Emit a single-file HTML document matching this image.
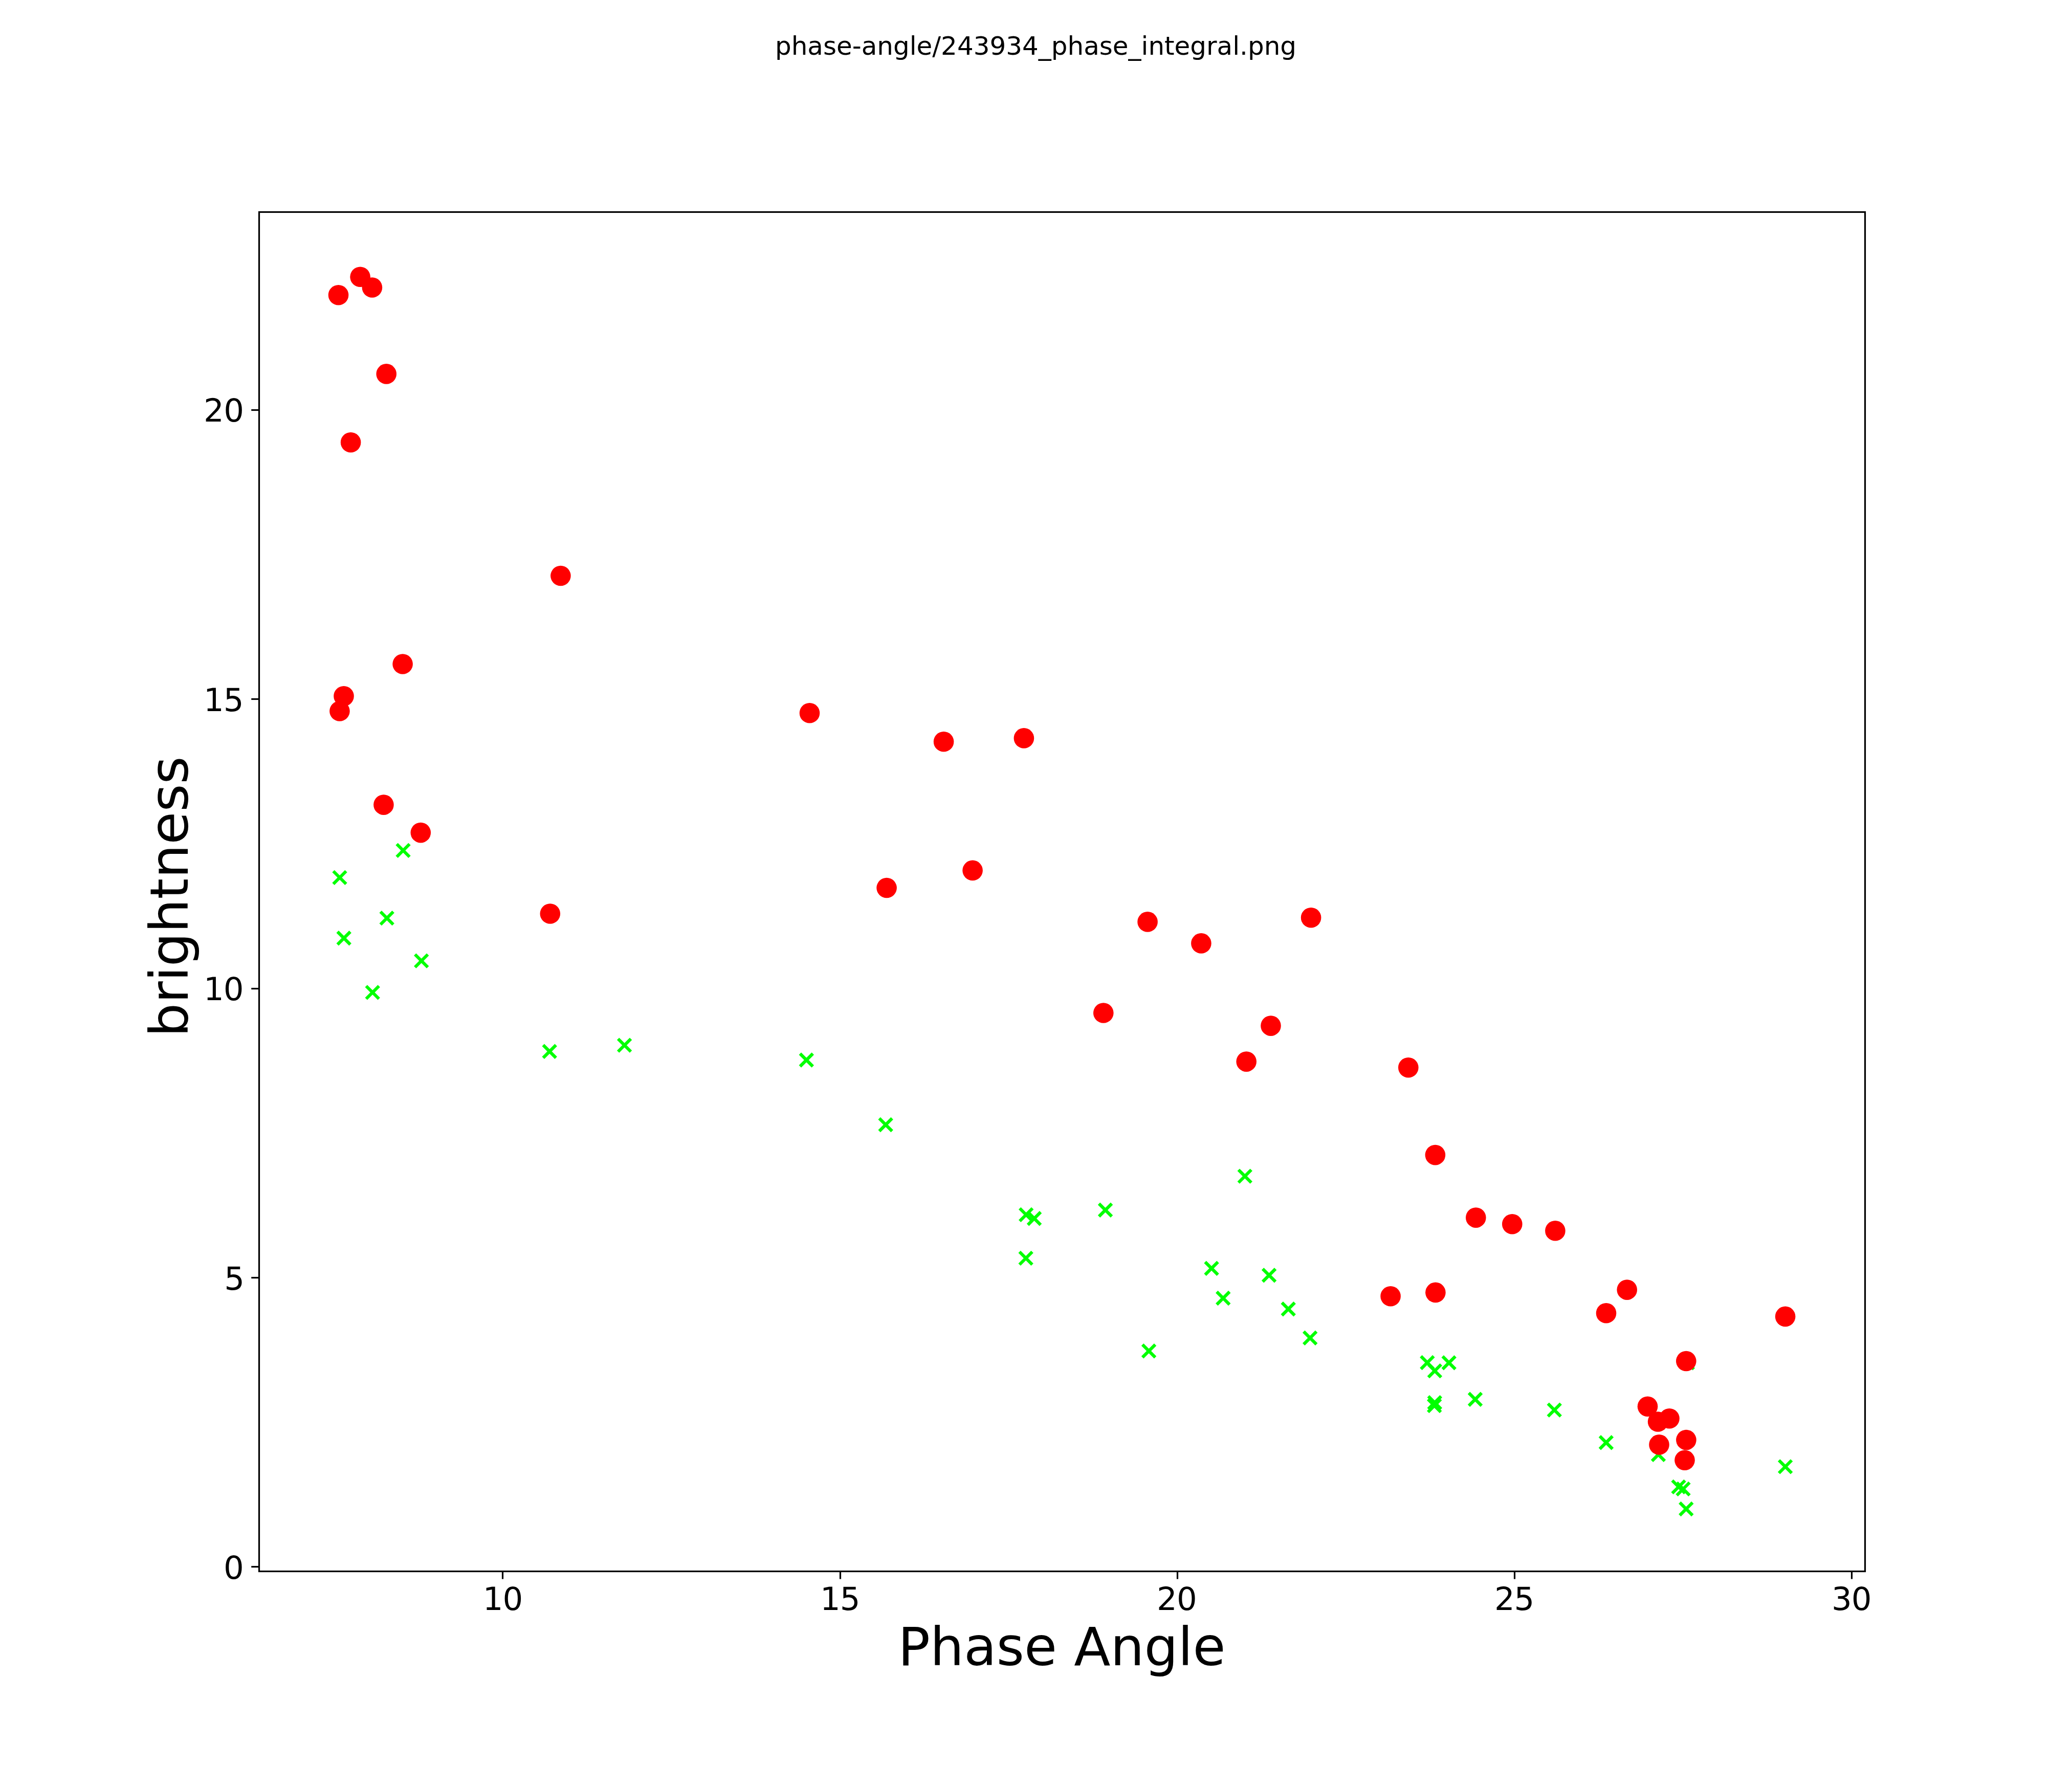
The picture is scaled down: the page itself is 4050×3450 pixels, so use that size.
<!DOCTYPE html>
<html><head><meta charset="utf-8"><title>phase-angle/243934_phase_integral.png</title>
<style>html,body{margin:0;padding:0;background:#fff;overflow:hidden;width:4050px;height:3450px}svg{display:block}text{font-family:"DejaVu Sans","Liberation Sans",sans-serif;fill:#000}</style></head><body>
<svg width="4050" height="3450" viewBox="0 0 4050 3450">
<rect width="4050" height="3450" fill="#fff"/>
<g stroke="#00ff00" stroke-width="6.25" stroke-linecap="butt" fill="none">
<path d="M775.5 1649.9L800.5 1674.9M775.5 1674.9L800.5 1649.9"/>
<path d="M651.5 1702.9L676.5 1727.9M651.5 1727.9L676.5 1702.9"/>
<path d="M743.7 1782.1L768.7 1807.1M743.7 1807.1L768.7 1782.1"/>
<path d="M659.7 1821.2L684.7 1846.2M659.7 1846.2L684.7 1821.2"/>
<path d="M811.2 1865.6L836.2 1890.6M811.2 1890.6L836.2 1865.6"/>
<path d="M715.7 1927.4L740.7 1952.4M715.7 1952.4L740.7 1927.4"/>
<path d="M1061.7 2042.7L1086.7 2067.7M1061.7 2067.7L1086.7 2042.7"/>
<path d="M1208.1 2030.6L1233.1 2055.6M1208.1 2055.6L1233.1 2030.6"/>
<path d="M1563.8 2059.5L1588.8 2084.5M1563.8 2084.5L1588.8 2059.5"/>
<path d="M1718.7 2186.0L1743.7 2211.0M1718.7 2211.0L1743.7 2186.0"/>
<path d="M1993.2 2361.9L2018.2 2386.9M1993.2 2386.9L2018.2 2361.9"/>
<path d="M2009.1 2369.2L2034.1 2394.2M2009.1 2394.2L2034.1 2369.2"/>
<path d="M1992.7 2446.9L2017.7 2471.9M1992.7 2471.9L2017.7 2446.9"/>
<path d="M2148.1 2352.8L2173.1 2377.8M2148.1 2377.8L2173.1 2352.8"/>
<path d="M2420.8 2286.6L2445.8 2311.6M2420.8 2311.6L2445.8 2286.6"/>
<path d="M2355.6 2466.7L2380.6 2491.7M2355.6 2491.7L2380.6 2466.7"/>
<path d="M2468.1 2480.2L2493.1 2505.2M2468.1 2505.2L2493.1 2480.2"/>
<path d="M2378.3 2525.0L2403.3 2550.0M2378.3 2550.0L2403.3 2525.0"/>
<path d="M2505.7 2546.3L2530.7 2571.3M2505.7 2571.3L2530.7 2546.3"/>
<path d="M2548.2 2602.8L2573.2 2627.8M2548.2 2627.8L2573.2 2602.8"/>
<path d="M2233.1 2628.3L2258.1 2653.3M2233.1 2653.3L2258.1 2628.3"/>
<path d="M2777.4 2651.0L2802.4 2676.0M2777.4 2676.0L2802.4 2651.0"/>
<path d="M2819.7 2651.2L2844.7 2676.2M2819.7 2676.2L2844.7 2651.2"/>
<path d="M2791.9 2667.1L2816.9 2692.1M2791.9 2692.1L2816.9 2667.1"/>
<path d="M2791.8 2729.2L2816.8 2754.2M2791.8 2754.2L2816.8 2729.2"/>
<path d="M2791.2 2735.1L2816.2 2760.1M2791.2 2760.1L2816.2 2735.1"/>
<path d="M2871.0 2722.8L2896.0 2747.8M2871.0 2747.8L2896.0 2722.8"/>
<path d="M3025.7 2743.6L3050.7 2768.6M3025.7 2768.6L3050.7 2743.6"/>
<path d="M3126.9 2807.3L3151.9 2832.3M3126.9 2832.3L3151.9 2807.3"/>
<path d="M3229.0 2830.8L3254.0 2855.8M3229.0 2855.8L3254.0 2830.8"/>
<path d="M3285.8 2651.4L3310.8 2676.4M3285.8 2676.4L3310.8 2651.4"/>
<path d="M3268.6 2893.9L3293.6 2918.9M3268.6 2918.9L3293.6 2893.9"/>
<path d="M3277.5 2897.9L3302.5 2922.9M3277.5 2922.9L3302.5 2897.9"/>
<path d="M3283.3 2937.0L3308.3 2962.0M3283.3 2962.0L3308.3 2937.0"/>
<path d="M3477.1 2854.4L3502.1 2879.4M3477.1 2879.4L3502.1 2854.4"/>
</g>
<g fill="#ff0000">
<circle cx="661.5" cy="576.7" r="19.8"/>
<circle cx="704.1" cy="541.3" r="19.8"/>
<circle cx="727.4" cy="562.0" r="19.8"/>
<circle cx="755.2" cy="730.9" r="19.8"/>
<circle cx="685.6" cy="864.7" r="19.8"/>
<circle cx="1095.9" cy="1125.5" r="19.8"/>
<circle cx="787.1" cy="1298.0" r="19.8"/>
<circle cx="672.0" cy="1360.7" r="19.8"/>
<circle cx="663.9" cy="1390.0" r="19.8"/>
<circle cx="749.9" cy="1573.1" r="19.8"/>
<circle cx="822.3" cy="1627.6" r="19.8"/>
<circle cx="1075.3" cy="1786.0" r="19.8"/>
<circle cx="1582.5" cy="1393.8" r="19.8"/>
<circle cx="1844.6" cy="1449.8" r="19.8"/>
<circle cx="2001.4" cy="1442.9" r="19.8"/>
<circle cx="1901.1" cy="1701.4" r="19.8"/>
<circle cx="1733.1" cy="1735.5" r="19.8"/>
<circle cx="2243.1" cy="1801.9" r="19.8"/>
<circle cx="2347.9" cy="1843.9" r="19.8"/>
<circle cx="2562.6" cy="1793.7" r="19.8"/>
<circle cx="2156.8" cy="1980.0" r="19.8"/>
<circle cx="2484.0" cy="2005.1" r="19.8"/>
<circle cx="2436.2" cy="2075.1" r="19.8"/>
<circle cx="2752.8" cy="2086.7" r="19.8"/>
<circle cx="2805.4" cy="2257.6" r="19.8"/>
<circle cx="2884.8" cy="2380.1" r="19.8"/>
<circle cx="2955.8" cy="2392.7" r="19.8"/>
<circle cx="3039.9" cy="2405.8" r="19.8"/>
<circle cx="2718.1" cy="2533.7" r="19.8"/>
<circle cx="2805.9" cy="2526.4" r="19.8"/>
<circle cx="3180.2" cy="2521.1" r="19.8"/>
<circle cx="3139.5" cy="2566.8" r="19.8"/>
<circle cx="3489.6" cy="2573.4" r="19.8"/>
<circle cx="3295.8" cy="2660.5" r="19.8"/>
<circle cx="3220.5" cy="2749.2" r="19.8"/>
<circle cx="3263.0" cy="2772.7" r="19.8"/>
<circle cx="3240.6" cy="2779.0" r="19.8"/>
<circle cx="3243.0" cy="2823.9" r="19.8"/>
<circle cx="3295.9" cy="2814.6" r="19.8"/>
<circle cx="3293.0" cy="2854.2" r="19.8"/>
</g>
<g stroke="#000" stroke-width="3.2" fill="none">
<rect x="506.5" y="414.5" width="3139.0" height="2657.0"/>
<path d="M982.5 3072.9V3086.5"/>
<path d="M1642.5 3072.9V3086.5"/>
<path d="M2301.5 3072.9V3086.5"/>
<path d="M2960.5 3072.9V3086.5"/>
<path d="M3619.5 3072.9V3086.5"/>
<path d="M505.09999999999997 3062.5H491.2"/>
<path d="M505.09999999999997 2497.5H491.2"/>
<path d="M505.09999999999997 1932.5H491.2"/>
<path d="M505.09999999999997 1366.5H491.2"/>
<path d="M505.09999999999997 801.5H491.2"/>
</g>
<g font-size="62.5px">
<text x="943.64 982.60" y="3147">10</text>
<text x="1602.94 1641.80" y="3147">15</text>
<text x="2261.10 2300.00" y="3147">20</text>
<text x="2921.04 2959.50" y="3147">25</text>
<text x="3580.10 3618.70" y="3147">30</text>
<text x="436.94" y="3086.00">0</text>
<text x="438.14" y="2521.00">5</text>
<text x="398.08 436.74" y="1955.00">10</text>
<text x="398.08 436.74" y="1390.00">15</text>
<text x="398.08 437.34" y="824.00">20</text>
</g>
<text x="2075.4" y="3255" font-size="104.17px" text-anchor="middle">Phase Angle</text>
<text transform="translate(367 1752.7) rotate(-90)" font-size="104.17px" text-anchor="middle" letter-spacing="-0.1">brightness</text>
<text x="2024.5" y="107" font-size="50px" text-anchor="middle" letter-spacing="-0.027">phase-angle/243934_phase_integral.png</text>
</svg></body></html>
